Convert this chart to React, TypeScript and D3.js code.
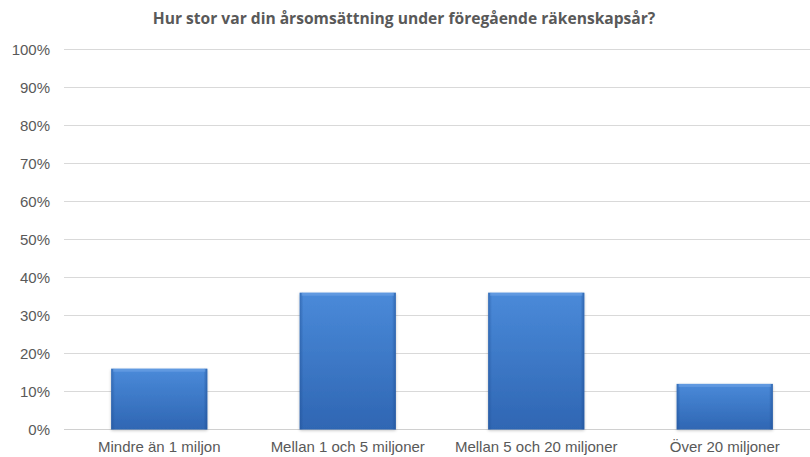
import React, { useEffect, useRef } from 'react';
import * as d3 from 'd3';

const title = 'Hur stor var din årsomsättning under föregående räkenskapsår?';
const categories = ['Mindre än 1 miljon', 'Mellan 1 och 5 miljoner', 'Mellan 5 och 20 miljoner', 'Över 20 miljoner'];
const shares = [0.16, 0.36, 0.36, 0.12];
const yTicks = [0, 0.1, 0.2, 0.3, 0.4, 0.5, 0.6, 0.7, 0.8, 0.9, 1];

function App() {
  const ref = useRef<SVGSVGElement>(null);

  useEffect(() => {
    const svg = d3.select(ref.current);
    svg.selectAll('*').remove();

    const W = 810;
    const H = 457;
    const font = 'Arial, "Liberation Sans", sans-serif';
    const grey = '#595959';

    const x = d3.scaleBand().domain(categories).range([65, 819]).paddingInner(0.49).paddingOuter(0.245);
    const y = d3.scaleLinear().domain([0, 1]).range([429.5, 49.5]);

    svg.append('rect').attr('width', W).attr('height', H).attr('fill', '#fff');

    // gradients for the bevelled bars
    const defs = svg.append('defs');
    const g1 = defs.append('linearGradient').attr('id', 'barFill').attr('x1', 0).attr('y1', 0).attr('x2', 0).attr('y2', 1);
    g1.append('stop').attr('offset', '0%').attr('stop-color', '#4a8ad9');
    g1.append('stop').attr('offset', '100%').attr('stop-color', '#2f66b3');
    const g2 = defs.append('linearGradient').attr('id', 'barSide').attr('x1', 0).attr('y1', 0).attr('x2', 1).attr('y2', 0);
    g2.append('stop').attr('offset', '0%').attr('stop-color', '#1f4f94').attr('stop-opacity', 0.5);
    g2.append('stop').attr('offset', '4%').attr('stop-color', '#1f4f94').attr('stop-opacity', 0);
    g2.append('stop').attr('offset', '96%').attr('stop-color', '#1f4f94').attr('stop-opacity', 0);
    g2.append('stop').attr('offset', '100%').attr('stop-color', '#1f4f94').attr('stop-opacity', 0.6);
    const sh = defs.append('filter').attr('id', 'shadow').attr('x', '-10%').attr('y', '-10%').attr('width', '120%').attr('height', '120%');
    sh.append('feGaussianBlur').attr('in', 'SourceAlpha').attr('stdDeviation', 1.5).attr('result', 'b');
    sh.append('feOffset').attr('in', 'b').attr('dx', 0).attr('dy', 1).attr('result', 'o');
    sh.append('feComponentTransfer').attr('in', 'o').attr('result', 'oa')
      .append('feFuncA').attr('type', 'linear').attr('slope', 0.25);
    const m = sh.append('feMerge');
    m.append('feMergeNode').attr('in', 'oa');
    m.append('feMergeNode').attr('in', 'SourceGraphic');

    // title
    svg.append('text')
      .attr('x', 404).attr('y', 24)
      .attr('text-anchor', 'middle')
      .attr('font-family', '"Open Sans", "Noto Sans", sans-serif')
      .attr('font-weight', 700)
      .attr('font-size', 15.6)
      .attr('fill', grey)
      .text(title);

    // gridlines
    svg.append('g')
      .selectAll('line')
      .data(yTicks)
      .join('line')
      .attr('x1', 64).attr('x2', W)
      .attr('y1', (d) => y(d)).attr('y2', (d) => y(d))
      .attr('stroke', (d) => (d === 0 ? '#d0d0d0' : '#d9d9d9'))
      .attr('stroke-width', 1);

    // y labels
    svg.append('g')
      .selectAll('text')
      .data(yTicks)
      .join('text')
      .attr('x', 50).attr('y', (d) => y(d) + 5.5)
      .attr('text-anchor', 'end')
      .attr('font-family', font)
      .attr('font-size', 15)
      .attr('fill', grey)
      .text((d) => d3.format('.0%')(d));

    // bars
    const bars = svg.append('g').selectAll('g').data(categories).join('g');
    bars.append('rect')
      .attr('x', (d) => x(d)!)
      .attr('y', (d, i) => y(shares[i]))
      .attr('width', x.bandwidth())
      .attr('height', (d, i) => y(0) - y(shares[i]))
      .attr('fill', 'url(#barFill)')
      .attr('filter', 'url(#shadow)');
    bars.append('rect')
      .attr('x', (d) => x(d)!)
      .attr('y', (d, i) => y(shares[i]))
      .attr('width', x.bandwidth())
      .attr('height', (d, i) => y(0) - y(shares[i]))
      .attr('fill', 'url(#barSide)');
    bars.append('rect')
      .attr('x', (d) => x(d)! + 2)
      .attr('y', (d, i) => y(shares[i]))
      .attr('width', x.bandwidth() - 4)
      .attr('height', 3)
      .attr('fill', '#6fa3e6')
      .attr('opacity', 0.6);

    // x labels
    svg.append('g')
      .selectAll('text')
      .data(categories)
      .join('text')
      .attr('x', (d) => x(d)! + x.bandwidth() / 2)
      .attr('y', 452)
      .attr('text-anchor', 'middle')
      .attr('font-family', font)
      .attr('font-size', 15)
      .attr('fill', grey)
      .text((d) => d);
  }, []);

  return (
    <svg ref={ref} width={810} height={457} style={{ position: 'absolute', left: 0, top: 0 }}></svg>
  );
}

export default App;
